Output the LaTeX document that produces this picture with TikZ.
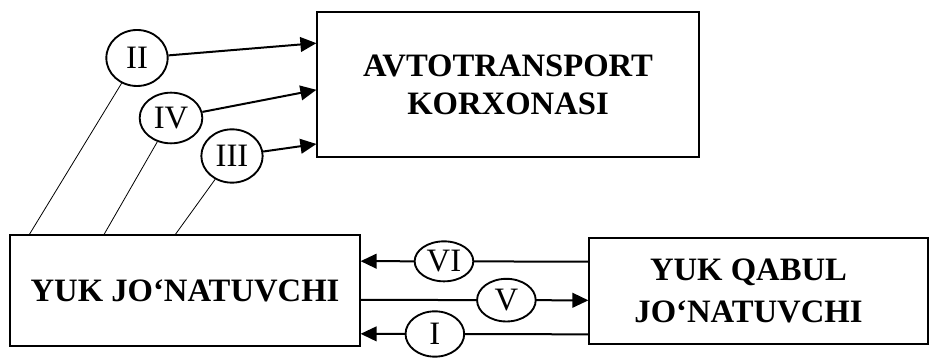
\documentclass[tikz,border=0pt]{standalone}
\usepackage{fontspec}
\setmainfont{Liberation Serif}
\usetikzlibrary{arrows.meta,shapes.geometric}

\begin{document}
\begin{tikzpicture}[x=0.75pt,y=-0.75pt,
  unitbox/.style={draw,line width=0.9pt,align=center,inner sep=0pt,
    font=\bfseries\fontsize{24.5}{28.5}\selectfont},
  numcircle/.style={draw,ellipse,line width=1.4pt,fill=white,inner sep=0pt,
    font=\fontsize{24.5}{26}\selectfont},
  flow/.style={-{Triangle[length=12pt,width=11pt]},line width=1.5pt},
  link/.style={line width=0.6pt}
]
\useasboundingbox (0,0) rectangle (929,359);

\node[unitbox,minimum width=286.5pt,minimum height=108.75pt] (avto) at (508,84.5)
  {AVTOTRANSPORT\\KORXONASI};
\node[unitbox,minimum width=262.5pt,minimum height=83.25pt] (lj) at (185,290.5)
  {YUK JO‘NATUVCHI};
\node[unitbox,minimum width=254.25pt,minimum height=79.5pt,
  font=\bfseries\fontsize{24.5}{31.5}\selectfont] (rq) at (758.5,291)
  {YUK QABUL\hspace*{15pt}\\JO‘NATUVCHI\hspace*{15pt}};

\node[numcircle,minimum width=46pt,minimum height=42pt] (ii) at (137,58) {II};
\node[numcircle,minimum width=47pt,minimum height=38pt] (iv) at (171,118) {IV};
\node[numcircle,minimum width=46pt,minimum height=40pt] (iii) at (232,156) {III};

\draw[flow] (ii) -- ([yshift=31pt]avto.west);
\draw[flow] (iv) -- ([yshift=-4pt]avto.west);
\draw[flow] (iii) -- ([yshift=-44.6pt]avto.west);

\draw[link] (ii) -- ([xshift=15pt]lj.north west);
\draw[link] (iv) -- ([xshift=71pt]lj.north west);
\draw[link] (iii) -- ([xshift=124.5pt]lj.north west);

\draw[flow] ([yshift=22pt]rq.west) -- node[numcircle,pos=0.634,
  minimum width=44pt,minimum height=30pt] (vi) {VI} ([yshift=22pt]lj.east);
\draw[flow] ([yshift=-7pt]lj.east) -- node[numcircle,pos=0.64,
  minimum width=44pt,minimum height=32pt] (v) {V} ([yshift=-7pt]rq.west);
\draw[flow] ([yshift=-32.5pt]rq.west) -- node[numcircle,pos=0.674,
  minimum width=44pt,minimum height=34pt] (i) {I} ([yshift=-32.5pt]lj.east);
\end{tikzpicture}
\end{document}
